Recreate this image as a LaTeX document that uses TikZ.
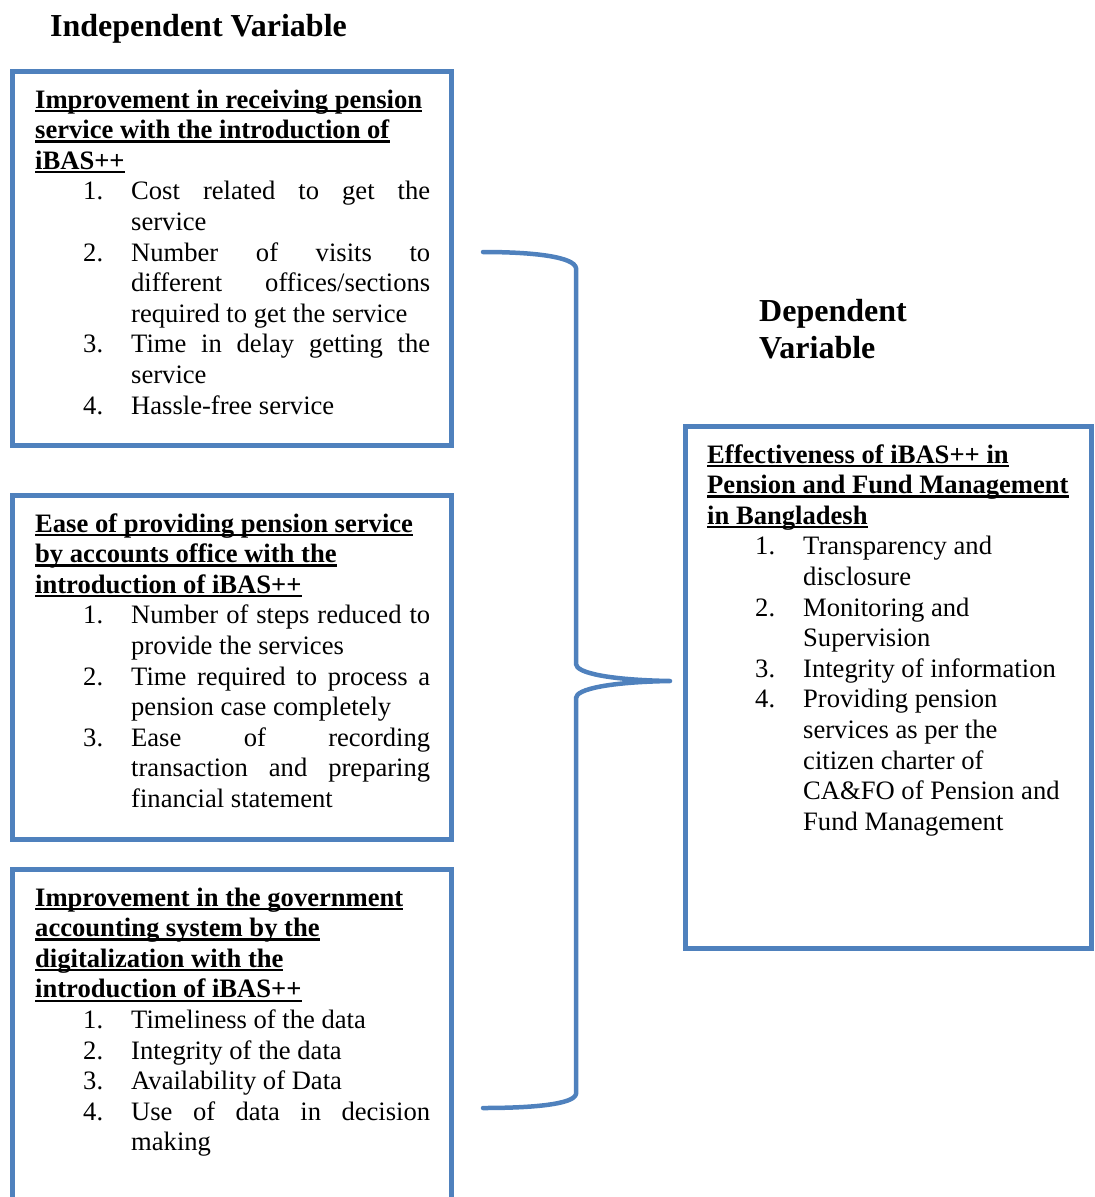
\documentclass[tikz,border=0pt]{standalone}
\usepackage{fontspec}
\setmainfont{Liberation Serif}
\definecolor{frameblue}{HTML}{4F81BD}
\newsavebox\ttlbox
\newcommand\ttl[1]{\leavevmode\sbox\ttlbox{\textbf{#1}}\rlap{\rule[-4.2pt]{\wd\ttlbox}{2.4pt}}\usebox\ttlbox}
\newcommand\nitem[2]{\hspace*{48pt}\makebox[48pt][l]{#1}#2}
\newcommand\cont[1]{\hspace*{96pt}#1}
\newcommand\jl[1]{\makebox[299pt][s]{#1}}
\tikzset{
  vbox/.style={draw=frameblue, line width=5pt, rectangle, inner sep=0pt, outer sep=0pt, anchor=north west},
  body/.style={anchor=base west, inner sep=0pt, font=\fontsize{26.6}{30.6}\selectfont},
  head/.style={anchor=base west, inner sep=0pt, font=\fontsize{32}{37}\selectfont\bfseries},
  bracepath/.style={draw=frameblue, line width=4.5pt, line cap=round, line join=round}
}
\begin{document}
\begin{tikzpicture}[x=1pt,y=-1pt]
\useasboundingbox (0,0) rectangle (1095,1197);
\clip (0,0) rectangle (1095,1197);

% headings
\node[head] (iv) at (50,36) {Independent Variable};
\node[head] (dv) at (759,321) {\parbox[t]{250pt}{Dependent\\Variable}};

% frames
\node[vbox, minimum width=439pt, minimum height=374pt] (b1) at (12.5,71.5) {};
\node[vbox, minimum width=439pt, minimum height=344pt] (b2) at (12.5,495) {};
\node[vbox, minimum width=439pt, minimum height=380pt] (b3) at (12.5,869) {};
\node[vbox, minimum width=406pt, minimum height=522.5pt] (b4) at (685.5,426) {};

% box 1 text
\node[body] (t1) at (35,108) {\parbox[t]{400pt}{%
\ttl{Improvement in receiving pension}\\
\ttl{service with the introduction of}\\
\ttl{iBAS++}\\
\nitem{1.}{\jl{Cost related to get the}}\\
\cont{service}\\
\nitem{2.}{\jl{Number of visits to}}\\
\cont{\jl{different offices/sections}}\\
\cont{required to get the service}\\
\nitem{3.}{\jl{Time in delay getting the}}\\
\cont{service}\\
\nitem{4.}{Hassle-free service}}};

% box 2 text
\node[body] (t2) at (35,532) {\parbox[t]{400pt}{%
\ttl{Ease of providing pension service}\\
\ttl{by accounts office with the}\\
\ttl{introduction of iBAS++}\\
\nitem{1.}{\jl{Number of steps reduced to}}\\
\cont{provide the services}\\
\nitem{2.}{\jl{Time required to process a}}\\
\cont{pension case completely}\\
\nitem{3.}{\jl{Ease of recording}}\\
\cont{\jl{transaction and preparing}}\\
\cont{financial statement}}};

% box 3 text
\node[body] (t3) at (35,906) {\parbox[t]{400pt}{%
\ttl{Improvement in the government}\\
\ttl{accounting system by the}\\
\ttl{digitalization with the}\\
\ttl{introduction of iBAS++}\\
\nitem{1.}{Timeliness of the data}\\
\nitem{2.}{Integrity of the data}\\
\nitem{3.}{Availability of Data}\\
\nitem{4.}{\jl{Use of data in decision}}\\
\cont{making}}};

% box 4 text
\node[body] (t4) at (707,463) {\parbox[t]{380pt}{%
\ttl{Effectiveness of iBAS++ in}\\
\ttl{Pension and Fund Management}\\
\ttl{in Bangladesh}\\
\nitem{1.}{Transparency and}\\
\cont{disclosure}\\
\nitem{2.}{Monitoring and}\\
\cont{Supervision}\\
\nitem{3.}{Integrity of information}\\
\nitem{4.}{Providing pension}\\
\cont{services as per the}\\
\cont{citizen charter of}\\
\cont{CA\&FO of Pension and}\\
\cont{Fund Management}}};

% brace
\coordinate (bA) at (483,252);
\coordinate (bB) at (576,268);
\coordinate (bC) at (576,664);
\coordinate (bTip) at (670,681);
\coordinate (bD) at (576,698);
\coordinate (bE) at (576,1094);
\coordinate (bF) at (483,1108);
\draw[bracepath] (bA) .. controls (535,252) and (574,257) .. (bB) -- (bC)
  .. controls (576,673) and (610,680) .. (bTip)
  .. controls (610,682) and (576,689) .. (bD) -- (bE)
  .. controls (574,1104) and (535,1108) .. (bF);
\end{tikzpicture}
\end{document}
